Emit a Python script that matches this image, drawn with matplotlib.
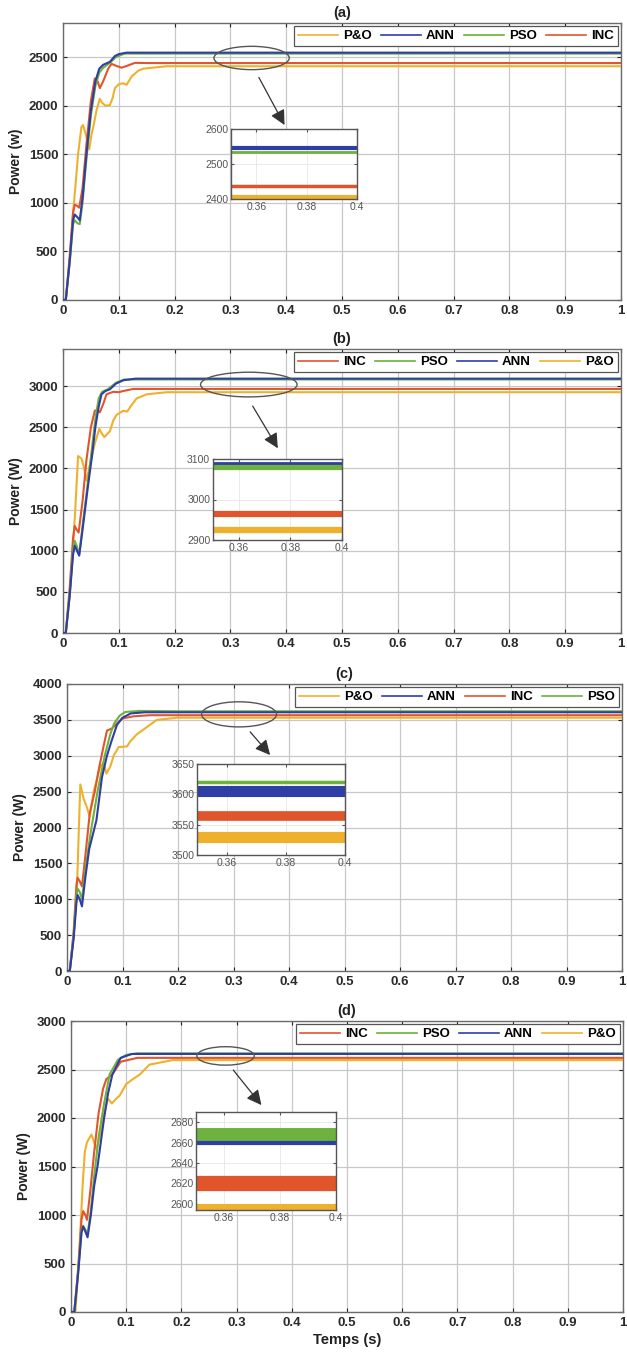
import matplotlib
matplotlib.use("Agg")
import matplotlib.pyplot as plt
from matplotlib.patches import Ellipse

plt.rcParams['font.family'] = ['Liberation Sans', 'DejaVu Sans']

W, H = 627, 1352

# ---------------- data ----------------
# panel (a)
a_po_t = [0, 0.005, 0.012, 0.018, 0.022, 0.027, 0.033, 0.036, 0.041, 0.047, 0.051, 0.055, 0.06, 0.066, 0.07, 0.076, 0.084, 0.089, 0.093, 0.1, 0.108, 0.114, 0.123, 0.135, 0.144, 0.16, 0.186, 1.0]
a_po_p = [0, 0, 400, 900, 1150, 1500, 1780, 1800, 1700, 1550, 1700, 1800, 1950, 2070, 2030, 2000, 2005, 2080, 2180, 2220, 2230, 2215, 2300, 2360, 2380, 2390, 2405, 2405]
a_inc_t = [0, 0.005, 0.012, 0.018, 0.021, 0.025, 0.029, 0.035, 0.042, 0.05, 0.057, 0.062, 0.066, 0.072, 0.081, 0.087, 0.095, 0.105, 0.115, 0.129, 0.15, 1.0]
a_inc_p = [0, 0, 450, 900, 980, 970, 950, 1150, 1600, 2050, 2280, 2250, 2180, 2250, 2380, 2430, 2410, 2390, 2410, 2440, 2438, 2438]
a_ann_t = [0, 0.005, 0.012, 0.018, 0.021, 0.026, 0.030, 0.035, 0.042, 0.05, 0.058, 0.065, 0.072, 0.084, 0.093, 0.1, 0.114, 0.15, 1.0]
a_ann_p = [0, 0, 400, 820, 880, 850, 820, 1050, 1500, 1950, 2250, 2380, 2420, 2450, 2510, 2530, 2545, 2545, 2545]
a_pso_t = [0, 0.005, 0.012, 0.018, 0.021, 0.026, 0.030, 0.035, 0.042, 0.05, 0.058, 0.065, 0.072, 0.084, 0.095, 0.11, 1.0]
a_pso_p = [0, 0, 380, 780, 820, 790, 780, 1000, 1450, 1900, 2200, 2340, 2390, 2440, 2500, 2535, 2535]

# panel (b)
b_po_t = [0, 0.005, 0.012, 0.018, 0.022, 0.027, 0.033, 0.038, 0.042, 0.05, 0.057, 0.065, 0.07, 0.074, 0.084, 0.09, 0.096, 0.108, 0.115, 0.122, 0.132, 0.15, 0.186, 1.0]
b_po_p = [0, 0, 450, 1050, 1500, 2150, 2120, 2000, 1850, 2100, 2300, 2480, 2420, 2380, 2450, 2580, 2650, 2700, 2690, 2760, 2850, 2900, 2925, 2925]
b_inc_t = [0, 0.005, 0.012, 0.018, 0.021, 0.025, 0.028, 0.035, 0.042, 0.05, 0.057, 0.062, 0.066, 0.072, 0.078, 0.09, 0.1, 0.108, 0.126, 1.0]
b_inc_p = [0, 0, 550, 1150, 1300, 1250, 1220, 1600, 2100, 2500, 2700, 2710, 2680, 2780, 2900, 2930, 2925, 2940, 2965, 2965]
b_ann_t = [0, 0.005, 0.012, 0.018, 0.021, 0.025, 0.029, 0.035, 0.045, 0.052, 0.058, 0.064, 0.069, 0.076, 0.084, 0.095, 0.108, 0.13, 1.0]
b_ann_p = [0, 0, 450, 950, 1060, 1000, 940, 1250, 1800, 2150, 2500, 2750, 2900, 2940, 2960, 3030, 3070, 3090, 3090]
b_pso_t = [0, 0.005, 0.012, 0.018, 0.021, 0.025, 0.029, 0.035, 0.045, 0.052, 0.058, 0.064, 0.07, 0.08, 0.095, 0.11, 1.0]
b_pso_p = [0, 0, 480, 1000, 1120, 1050, 950, 1300, 1850, 2250, 2600, 2850, 2930, 2960, 3040, 3080, 3080]

# panel (c)
c_po_t = [0, 0.005, 0.012, 0.018, 0.021, 0.024, 0.03, 0.035, 0.041, 0.048, 0.06, 0.066, 0.071, 0.078, 0.084, 0.093, 0.108, 0.114, 0.126, 0.144, 0.162, 0.198, 1.0]
c_po_p = [0, 0, 500, 1150, 1900, 2600, 2400, 2300, 2150, 2500, 2850, 2900, 2750, 2850, 3000, 3120, 3130, 3200, 3300, 3400, 3500, 3530, 3530]
c_inc_t = [0, 0.005, 0.012, 0.017, 0.019, 0.023, 0.027, 0.033, 0.041, 0.05, 0.057, 0.065, 0.072, 0.081, 0.09, 0.1, 0.12, 0.15, 1.0]
c_inc_p = [0, 0, 550, 1200, 1300, 1250, 1180, 1600, 2200, 2500, 2800, 3100, 3350, 3380, 3450, 3520, 3550, 3565, 3565]
c_ann_t = [0, 0.005, 0.012, 0.017, 0.019, 0.023, 0.027, 0.033, 0.04, 0.053, 0.063, 0.072, 0.08, 0.09, 0.1, 0.115, 0.14, 1.0]
c_ann_p = [0, 0, 450, 950, 1060, 1000, 900, 1300, 1700, 2100, 2700, 3000, 3200, 3430, 3530, 3590, 3606, 3606]
c_pso_t = [0, 0.005, 0.012, 0.017, 0.019, 0.023, 0.027, 0.033, 0.042, 0.055, 0.068, 0.078, 0.085, 0.095, 0.105, 0.13, 0.2, 1.0]
c_pso_p = [0, 0, 500, 1050, 1150, 1100, 1000, 1400, 1900, 2500, 3000, 3300, 3450, 3560, 3610, 3625, 3620, 3620]

# panel (d)
d_po_t = [0, 0.008, 0.015, 0.021, 0.025, 0.029, 0.037, 0.046, 0.052, 0.058, 0.067, 0.074, 0.082, 0.088, 0.1, 0.112, 0.125, 0.142, 0.184, 1.0]
d_po_p = [0, 0, 600, 1300, 1650, 1750, 1830, 1680, 1800, 2000, 2200, 2150, 2200, 2230, 2350, 2400, 2450, 2550, 2597, 2597]
d_inc_t = [0, 0.006, 0.013, 0.019, 0.022, 0.026, 0.029, 0.035, 0.042, 0.05, 0.058, 0.064, 0.075, 0.09, 0.12, 1.0]
d_inc_p = [0, 0, 450, 950, 1040, 1000, 950, 1250, 1650, 2050, 2300, 2400, 2450, 2580, 2620, 2620]
d_ann_t = [0, 0.006, 0.013, 0.019, 0.022, 0.026, 0.030, 0.036, 0.042, 0.048, 0.06, 0.067, 0.075, 0.09, 0.11, 1.0]
d_ann_p = [0, 0, 400, 820, 880, 830, 770, 1000, 1300, 1500, 2000, 2250, 2450, 2620, 2660, 2660]
d_pso_t = [0, 0.006, 0.013, 0.019, 0.022, 0.026, 0.030, 0.036, 0.042, 0.05, 0.06, 0.07, 0.085, 0.1, 0.12, 1.0]
d_pso_p = [0, 0, 420, 830, 890, 850, 800, 1050, 1400, 1800, 2150, 2450, 2600, 2650, 2667, 2667]

panel_titles = ['(a)', '(b)', '(c)', '(d)']
ylabels = ['Power (w)', 'Power (W)', 'Power (W)', 'Power (W)']
legend_orders = [['P&O', 'ANN', 'PSO', 'INC'],
                 ['INC', 'PSO', 'ANN', 'P&O'],
                 ['P&O', 'ANN', 'INC', 'PSO'],
                 ['INC', 'PSO', 'ANN', 'P&O']]
main_ylims = [(0, 2850), (0, 3450), (0, 4000), (0, 3000)]
main_yticks = [list(range(0, 2501, 500)), list(range(0, 3001, 500)),
               list(range(0, 4001, 500)), list(range(0, 3001, 500))]
xticks = [0, 0.1, 0.2, 0.3, 0.4, 0.5, 0.6, 0.7, 0.8, 0.9, 1]
xticklabels = ['0', '0.1', '0.2', '0.3', '0.4', '0.5', '0.6', '0.7', '0.8', '0.9', '1']
inset_ylims = [(2400, 2600), (2900, 3100), (3500, 3650), (2594, 2690)]
inset_yticks = [[2400, 2500, 2600], [2900, 3000, 3100], [3500, 3550, 3600, 3650],
                [2600, 2620, 2640, 2660, 2680]]
inset_xticks = [0.36, 0.38, 0.4]
inset_xticklabels = ['0.36', '0.38', '0.4']

series = [
    {'P&O': (a_po_t, a_po_p), 'INC': (a_inc_t, a_inc_p), 'ANN': (a_ann_t, a_ann_p), 'PSO': (a_pso_t, a_pso_p)},
    {'P&O': (b_po_t, b_po_p), 'INC': (b_inc_t, b_inc_p), 'ANN': (b_ann_t, b_ann_p), 'PSO': (b_pso_t, b_pso_p)},
    {'P&O': (c_po_t, c_po_p), 'INC': (c_inc_t, c_inc_p), 'ANN': (c_ann_t, c_ann_p), 'PSO': (c_pso_t, c_pso_p)},
    {'P&O': (d_po_t, d_po_p), 'INC': (d_inc_t, d_inc_p), 'ANN': (d_ann_t, d_ann_p), 'PSO': (d_pso_t, d_pso_p)},
]

colors = {'P&O': '#EFB12C', 'ANN': '#2E3EA4', 'PSO': '#6CB23C', 'INC': '#E0552B'}

# ---------------- layout (pixels) ----------------
main_rects = [(63, 23, 621, 300), (63, 349, 621, 633), (67, 684, 622, 971), (71, 1021, 623, 1312)]
inset_rects = [(231, 129, 357, 199), (213, 459, 342, 540), (197, 764, 345, 855), (196, 1112, 336, 1210)]
# inset line widths & draw order (last on top)
inset_lw = [{'P&O': 3.0, 'INC': 2.5, 'PSO': 2.0, 'ANN': 3.0},
            {'P&O': 4.5, 'INC': 4.5, 'PSO': 4.5, 'ANN': 2.0},
            {'P&O': 8.0, 'INC': 7.0, 'PSO': 2.5, 'ANN': 8.0},
            {'P&O': 5.0, 'INC': 11.0, 'PSO': 10.0, 'ANN': 3.0}]
inset_order = [['P&O', 'INC', 'PSO', 'ANN'], ['P&O', 'INC', 'PSO', 'ANN'],
               ['P&O', 'INC', 'ANN', 'PSO'], ['P&O', 'INC', 'PSO', 'ANN']]
ellipses = [(0.338, 2490, 0.135, 240), (0.333, 3018, 0.173, 300),
            (0.31, 3577, 0.135, 350), (0.28, 2640, 0.104, 190)]
arrows = [((0.351, 2290), (0.397, 1800)), ((0.34, 2756), (0.385, 2244)),
          ((0.33, 3333), (0.366, 3010)), ((0.294, 2494), (0.345, 2133))]


def frac(l, t, r, b):
    return [l / W, 1 - b / H, (r - l) / W, (b - t) / H]


fig = plt.figure(figsize=(W / 100, H / 100), dpi=100)
grid_c = '#c8c8c8'
spine_c = '#6b6b6b'

for i in range(4):
    ax = fig.add_axes(frac(*main_rects[i]))
    data = series[i]
    for name in ['P&O', 'INC', 'PSO', 'ANN']:
        t, p = data[name]
        ax.plot(t, p, color=colors[name], lw=1.5, label=name, zorder=3)
    ax.set_xlim(0, 1)
    ax.set_ylim(*main_ylims[i])
    ax.set_xticks(xticks)
    ax.set_xticklabels(xticklabels)
    ax.set_yticks(main_yticks[i])
    ax.grid(True, color=grid_c, lw=0.9)
    ax.set_axisbelow(True)
    for s in ax.spines.values():
        s.set_color(spine_c)
        s.set_linewidth(1.0)
    ax.tick_params(axis='both', labelsize=9.5, colors='#222222', length=3, direction='in',
                   top=True, right=True, width=0.8)
    for lab in ax.get_xticklabels() + ax.get_yticklabels():
        lab.set_fontweight('bold')
        lab.set_color('#2a2a2a')
    ax.set_ylabel(ylabels[i], fontsize=10, fontweight='bold', color='#222222', labelpad=4)
    ax.set_title(panel_titles[i], fontsize=10.5, fontweight='bold', pad=4, color='#222222')
    if i == 3:
        ax.set_xlabel('Temps (s)', fontsize=10.5, fontweight='bold', color='#222222', labelpad=3)

    handles = {h.get_label(): h for h in ax.get_lines()}
    leg = ax.legend([handles[n] for n in legend_orders[i]], legend_orders[i], loc='upper right',
                    ncol=4, prop={'weight': 'bold', 'size': 9.5}, frameon=True,
                    fancybox=False, edgecolor='#555555', framealpha=1, borderaxespad=0.25,
                    handlelength=3.0, columnspacing=0.7, handletextpad=0.4, borderpad=0.3)
    leg.get_frame().set_linewidth(0.9)
    for ln in leg.get_lines():
        ln.set_linewidth(1.2)

    ex, ey, ew, eh = ellipses[i]
    ax.add_patch(Ellipse((ex, ey), ew, eh, fill=False, edgecolor='#555555', lw=1.0, zorder=5))
    (x0, y0), (x1, y1) = arrows[i]
    ax.annotate('', xy=(x1, y1), xytext=(x0, y0),
                arrowprops=dict(arrowstyle='-|>,head_length=0.9,head_width=0.45', color='#333333',
                                lw=0.9, shrinkA=0, shrinkB=0), zorder=5)

    # inset
    ia = fig.add_axes(frac(*inset_rects[i]))
    for name in inset_order[i]:
        t, p = data[name]
        ia.plot(t, p, color=colors[name], lw=inset_lw[i][name], solid_capstyle='butt')
    ia.set_xlim(0.35, 0.4)
    ia.set_ylim(*inset_ylims[i])
    ia.set_xticks(inset_xticks)
    ia.set_xticklabels(inset_xticklabels)
    ia.set_yticks(inset_yticks[i])
    ia.grid(True, color='#e6e6e6', lw=0.6)
    ia.set_axisbelow(True)
    for s in ia.spines.values():
        s.set_color('#555555')
        s.set_linewidth(1.0)
    ia.tick_params(axis='both', labelsize=7.5, colors='#555555', length=2, direction='in',
                   top=True, right=True, pad=2)
    for lab in ia.get_xticklabels() + ia.get_yticklabels():
        lab.set_color('#555555')

fig.savefig('out.png', dpi=100)
